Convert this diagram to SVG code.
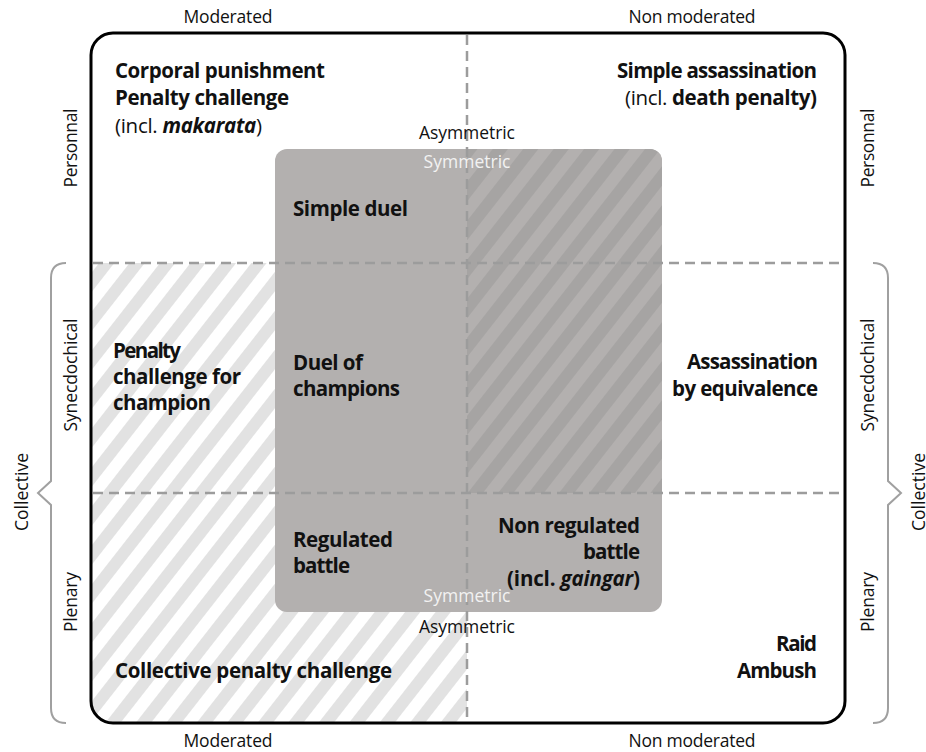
<svg xmlns="http://www.w3.org/2000/svg" width="926" height="752" viewBox="0 0 926 752">
<style>
  .lbl { font-family: "Open Sans", "Liberation Sans", sans-serif; font-size: 17.5px; fill: #111; }
  .b { font-family: "Open Sans", "Liberation Sans", sans-serif; font-size: 20.5px; font-weight: 700; fill: #111; }
  .reg { font-weight: 400; }
  .it { font-style: italic; }
  .sym { font-family: "Open Sans", "Liberation Sans", sans-serif; font-size: 17.5px; fill: #f2f2f2; }
  .dash { stroke: #9c9c9c; stroke-width: 2.5; stroke-dasharray: 10 6; fill: none; }
  .brace { stroke: #a0a0a0; stroke-width: 2; fill: none; stroke-linejoin: miter; }
</style>
<defs>
  <pattern id="hatchLight" patternUnits="userSpaceOnUse" width="24" height="24" patternTransform="rotate(38)">
    <rect width="24" height="24" fill="#ffffff"/>
    <rect width="12" height="24" fill="#e2e2e2"/>
  </pattern>
  <pattern id="hatchDark" patternUnits="userSpaceOnUse" width="24" height="24" patternTransform="rotate(38)">
    <rect width="24" height="24" fill="#b3b0af"/>
    <rect width="12" height="24" fill="#a6a4a3"/>
  </pattern>
</defs>
<rect width="926" height="752" fill="#ffffff"/>

<g id="areas">
  <path d="M91,263 H467 V723 H113 A22,22 0 0 1 91,701 Z" fill="url(#hatchLight)"/>
  <rect id="symmetric-box" x="275" y="149" width="387" height="463" rx="12" fill="#b3b0af"/>
  <path d="M467,149 H650 A12,12 0 0 1 662,161 V493 H467 Z" fill="url(#hatchDark)"/>
</g>

<g id="connectors">
  <line class="dash" x1="467" y1="35" x2="467" y2="721"/>
  <line class="dash" x1="93" y1="263" x2="843" y2="263"/>
  <line class="dash" x1="93" y1="493" x2="843" y2="493"/>
  <path class="brace" d="M66,263 Q51,263 51,278 V481 L38,493 L51,505 V708 Q51,723 66,723"/>
  <path class="brace" d="M873,263 Q888,263 888,278 V481 L901,493 L888,505 V708 Q888,723 873,723"/>
</g>

<rect id="frame" x="91" y="33" width="754" height="690" rx="22" fill="none" stroke="#000" stroke-width="3"/>

<g id="axis-labels">
  <text class="lbl" x="228" y="23" text-anchor="middle" textLength="89">Moderated</text>
  <text class="lbl" x="692" y="23" text-anchor="middle" textLength="127">Non moderated</text>
  <text class="lbl" x="228" y="747" text-anchor="middle" textLength="89">Moderated</text>
  <text class="lbl" x="692" y="747" text-anchor="middle" textLength="127">Non moderated</text>
  <text class="lbl" transform="translate(77,148) rotate(-90)" text-anchor="middle" textLength="79">Personnal</text>
  <text class="lbl" transform="translate(77,375) rotate(-90)" text-anchor="middle" textLength="113">Synecdochical</text>
  <text class="lbl" transform="translate(77,602) rotate(-90)" text-anchor="middle" textLength="60">Plenary</text>
  <text class="lbl" transform="translate(28,492) rotate(-90)" text-anchor="middle" textLength="78">Collective</text>
  <text class="lbl" transform="translate(874,148) rotate(-90)" text-anchor="middle" textLength="79">Personnal</text>
  <text class="lbl" transform="translate(874,375) rotate(-90)" text-anchor="middle" textLength="113">Synecdochical</text>
  <text class="lbl" transform="translate(874,602) rotate(-90)" text-anchor="middle" textLength="60">Plenary</text>
  <text class="lbl" transform="translate(925,492) rotate(-90)" text-anchor="middle" textLength="78">Collective</text>
  <text class="lbl" x="467" y="139" text-anchor="middle" textLength="96">Asymmetric</text>
  <text class="sym" x="467" y="168" text-anchor="middle" textLength="87">Symmetric</text>
  <text class="sym" x="467" y="602" text-anchor="middle" textLength="87">Symmetric</text>
  <text class="lbl" x="467" y="633" text-anchor="middle" textLength="96">Asymmetric</text>
</g>

<g id="corporal">
  <text class="b" x="115" y="78" textLength="210">Corporal punishment</text>
  <text class="b" x="115" y="105" textLength="174">Penalty challenge</text>
  <text class="b" x="115" y="133" textLength="147"><tspan class="reg">(incl. </tspan><tspan class="it">makarata</tspan><tspan class="reg">)</tspan></text>
</g>
<g id="simple-assassination">
  <text class="b" x="817" y="78" text-anchor="end" textLength="200">Simple assassination</text>
  <text class="b" x="817" y="105" text-anchor="end" textLength="192"><tspan class="reg">(incl. </tspan>death penalty)</text>
</g>
<g id="simple-duel">
  <text class="b" x="293" y="216" textLength="115">Simple duel</text>
</g>
<g id="penalty-champion">
  <text class="b" x="113" y="358" textLength="68">Penalty</text>
  <text class="b" x="113" y="384" textLength="128">challenge for</text>
  <text class="b" x="113" y="410" textLength="98">champion</text>
</g>
<g id="duel-champions">
  <text class="b" x="293" y="370" textLength="70">Duel of</text>
  <text class="b" x="293" y="396" textLength="107">champions</text>
</g>
<g id="assassination-equivalence">
  <text class="b" x="818" y="369" text-anchor="end" textLength="131">Assassination</text>
  <text class="b" x="818" y="396" text-anchor="end" textLength="146">by equivalence</text>
</g>
<g id="regulated-battle">
  <text class="b" x="293" y="547" textLength="100">Regulated</text>
  <text class="b" x="293" y="573" textLength="57">battle</text>
</g>
<g id="non-regulated-battle">
  <text class="b" x="640" y="533" text-anchor="end" textLength="142">Non regulated</text>
  <text class="b" x="640" y="559" text-anchor="end" textLength="57">battle</text>
  <text class="b" x="640" y="586" text-anchor="end" textLength="133">(incl. <tspan class="it">gaingar</tspan>)</text>
</g>
<g id="raid-ambush">
  <text class="b" x="817" y="651" text-anchor="end" textLength="41">Raid</text>
  <text class="b" x="817" y="678" text-anchor="end" textLength="80">Ambush</text>
</g>
<g id="collective-penalty">
  <text class="b" x="115" y="678" textLength="277">Collective penalty challenge</text>
</g>
</svg>
